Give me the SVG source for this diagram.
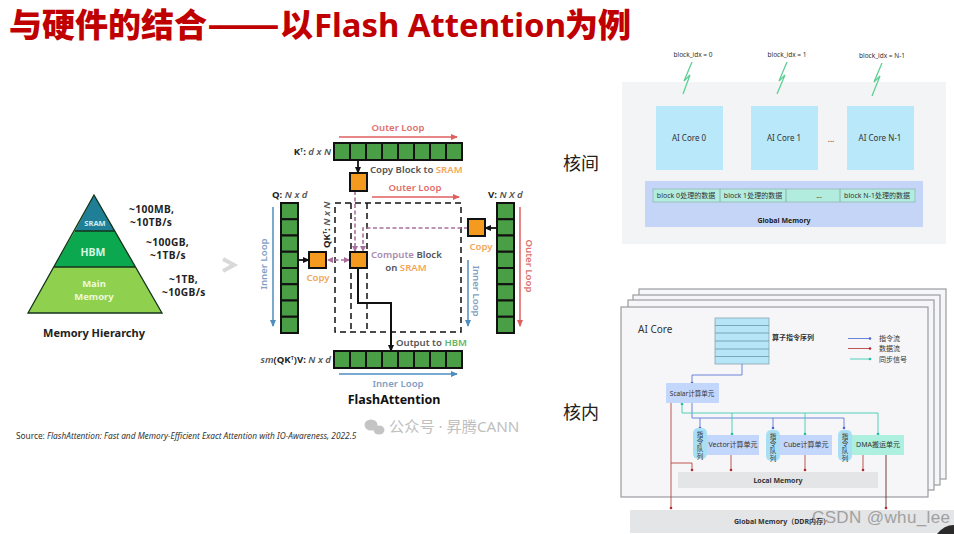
<svg xmlns="http://www.w3.org/2000/svg" width="954" height="534" viewBox="0 0 954 534">
<style>
text{font-family:"Noto Sans","Noto Sans CJK SC",sans-serif;fill:#333}
.c{text-anchor:middle}
.b{font-weight:700}
.mem{font-size:10.200px;letter-spacing:.4px;font-weight:700;fill:#222}
.cell{fill:#4a9e45;stroke:#111;stroke-width:2}
.org{fill:#f39a1f;stroke:#111;stroke-width:2}
.dash{fill:none;stroke:#111;stroke-width:1.5;stroke-dasharray:6 4}
.pink{fill:none;stroke:#a9709f;stroke-width:1.6;stroke-dasharray:4 2.5}
.f{font-size:9.6px;font-weight:600;fill:#555}
.o{fill:#f2a65a}.g{fill:#62b565}.rd{fill:#e0706c}.bl{fill:#7f9fc4}
.k{fill:#222}
.it{font-style:italic;font-weight:600;fill:#555}
.t7{font-size:7px;fill:#333}
.frame{fill:#f6f6f8;stroke:#9a9c9e;stroke-width:1.2}
.core{fill:#b9e8fa}
.bolt{fill:none;stroke:#5fcf96;stroke-width:1.3}
.unit{fill:#c3d6fb}
.pill{fill:#a9dff5}
.wire{fill:none;stroke-width:.9}
.wb{stroke:#5c78d8}.wr{stroke:#b5453f}.wg{stroke:#3fcdb0}
.v{font-size:6.500px;fill:#333;writing-mode:vertical-rl;text-orientation:upright;letter-spacing:.8px;font-family:"Noto Sans CJK SC",sans-serif}
.tt{font-size:33px;font-weight:900;fill:#c00000;font-family:"Noto Sans CJK SC",sans-serif}
.ttl{font-size:33px;font-weight:700;fill:#c00000;font-family:"Noto Sans",sans-serif}
</style>
<defs>
<marker id="ab" markerUnits="userSpaceOnUse" markerWidth="8" markerHeight="8" refX="6" refY="4" orient="auto"><path d="M0 1L7 4L0 7z" fill="#111"/></marker>
<marker id="ar" markerUnits="userSpaceOnUse" markerWidth="8" markerHeight="8" refX="6" refY="4" orient="auto"><path d="M0 1L7 4L0 7z" fill="#df5f5f"/></marker>
<marker id="au" markerUnits="userSpaceOnUse" markerWidth="8" markerHeight="8" refX="6" refY="4" orient="auto"><path d="M0 1L7 4L0 7z" fill="#4f8dbf"/></marker>
<marker id="ap" markerUnits="userSpaceOnUse" markerWidth="7" markerHeight="7" refX="5" refY="3.500" orient="auto-start-reverse"><path d="M0 .5L6 3.500L0 6.500z" fill="#a9709f"/></marker>
<marker id="db" markerUnits="userSpaceOnUse" markerWidth="4" markerHeight="4" refX="2" refY="2"><circle cx="2" cy="2" r="1.300" fill="#4a66d0"/></marker>
<marker id="dr" markerUnits="userSpaceOnUse" markerWidth="4" markerHeight="4" refX="2" refY="2"><circle cx="2" cy="2" r="1.300" fill="#b02a2a"/></marker>
<marker id="dg" markerUnits="userSpaceOnUse" markerWidth="4" markerHeight="4" refX="2" refY="2"><circle cx="2" cy="2" r="1.300" fill="#20c0a0"/></marker>
</defs>
<rect width="954" height="534" fill="#fff"/>
<g id="title">
<text class="tt" x="9" y="37">与硬件的结合</text>
<text class="tt" x="207" y="37" textLength="73" lengthAdjust="spacingAndGlyphs">——</text>
<text class="tt" x="280" y="37">以</text>
<text class="ttl" x="314" y="37" textLength="252" lengthAdjust="spacingAndGlyphs">Flash Attention</text>
<text class="tt" x="565" y="37">为例</text>
</g>

<g id="pyramid">
<path d="M94 195L162 313H28z" fill="#8fd14f"/>
<path d="M75 231H115L135 267H54z" fill="#0ba84f"/>
<path d="M94 195L115 231H75z" fill="#1f7f97"/>
<path d="M94 195L162 313H28zM75 231H115M54 267H135" fill="none" stroke="#14331c" stroke-width="1.3"/>
<text class="c b" x="95" y="226" font-size="7.5" style="fill:#cfeef0">SRAM</text>
<text class="c b" x="93" y="256" font-size="10.500" style="fill:#d8f5e2">HBM</text>
<text class="c b" x="94" y="287" font-size="9.500" style="fill:#eef8da">Main</text>
<text class="c b" x="94" y="300" font-size="9.500" style="fill:#eef8da">Memory</text>
<text class="mem" x="129" y="213">~100MB,</text>
<text class="mem" x="130" y="226">~10TB/s</text>
<text class="mem" x="146" y="246">~100GB,</text>
<text class="mem" x="150" y="259">~1TB/s</text>
<text class="mem" x="169" y="283">~1TB,</text>
<text class="mem" x="162" y="296">~10GB/s</text>
<text class="c b" x="94" y="337" font-size="11" style="fill:#222">Memory Hierarchy</text>
<path d="M223 259L234 265L223 271" fill="none" stroke="#d9d9d9" stroke-width="4"/>
</g>

<g id="connectors-flash">
<path class="dash" d="M335 203H461V332H335z"/>
<path class="dash" d="M351 203V332M367 203V332" stroke-dasharray="4 3"/>
<path class="pink" d="M355 191V251" marker-end="url(#ap)"/>
<path class="pink" d="M468 228H363V251" marker-end="url(#ap)"/>
<path class="pink" d="M328 260H349" marker-start="url(#ap)" marker-end="url(#ap)"/>
<path d="M358 160V173" fill="none" stroke="#111" stroke-width="1.8" marker-end="url(#ab)"/>
<path d="M298 260H309" fill="none" stroke="#111" stroke-width="1.8" marker-end="url(#ab)"/>
<path d="M497 228H485" fill="none" stroke="#111" stroke-width="1.8" marker-end="url(#ab)"/>
<path d="M358 268V303H391V351" fill="none" stroke="#111" stroke-width="2" marker-end="url(#ab)"/>
<path d="M339 137H457" stroke="#df5f5f" stroke-width="1.500" marker-end="url(#ar)"/>
<path d="M372 197H459" stroke="#df5f5f" stroke-width="1.500" marker-end="url(#ar)"/>
<path d="M520 207V326" stroke="#df5f5f" stroke-width="1.500" marker-end="url(#ar)"/>
<path d="M273 207V326" stroke="#4f8dbf" stroke-width="1.500" marker-end="url(#au)"/>
<path d="M468 260V326" stroke="#4f8dbf" stroke-width="1.500" marker-end="url(#au)"/>
<path d="M339 374H457" stroke="#4f8dbf" stroke-width="1.500" marker-end="url(#au)"/>
</g>
<g id="k-row">
<rect class="cell" x="334" y="143" width="16" height="17"/><rect class="cell" x="350" y="143" width="16" height="17"/><rect class="cell" x="366" y="143" width="16" height="17"/><rect class="cell" x="382" y="143" width="16" height="17"/><rect class="cell" x="398" y="143" width="16" height="17"/><rect class="cell" x="414" y="143" width="16" height="17"/><rect class="cell" x="430" y="143" width="16" height="17"/><rect class="cell" x="446" y="143" width="16" height="17"/>
<text class="f" x="331" y="155" text-anchor="end"><tspan class="b k">K</tspan><tspan font-size="5.500" dy="-3" class="k">T</tspan><tspan dy="3" class="b k">:</tspan><tspan class="it"> d x N</tspan></text>
</g>
<g id="q-col">
<rect class="cell" x="281" y="203" width="17" height="16.250"/><rect class="cell" x="281" y="219.250" width="17" height="16.250"/><rect class="cell" x="281" y="235.500" width="17" height="16.250"/><rect class="cell" x="281" y="251.750" width="17" height="16.250"/><rect class="cell" x="281" y="268" width="17" height="16.250"/><rect class="cell" x="281" y="284.250" width="17" height="16.250"/><rect class="cell" x="281" y="300.500" width="17" height="16.250"/><rect class="cell" x="281" y="316.750" width="17" height="16.250"/>
<text class="f" x="272" y="198"><tspan class="b k">Q:</tspan><tspan class="it"> N x d</tspan></text>
</g>
<g id="v-col">
<rect class="cell" x="497" y="203" width="17" height="16.250"/><rect class="cell" x="497" y="219.250" width="17" height="16.250"/><rect class="cell" x="497" y="235.500" width="17" height="16.250"/><rect class="cell" x="497" y="251.750" width="17" height="16.250"/><rect class="cell" x="497" y="268" width="17" height="16.250"/><rect class="cell" x="497" y="284.250" width="17" height="16.250"/><rect class="cell" x="497" y="300.500" width="17" height="16.250"/><rect class="cell" x="497" y="316.750" width="17" height="16.250"/>
<text class="f" x="488" y="198"><tspan class="b k">V:</tspan><tspan class="it"> N X d</tspan></text>
</g>
<g id="out-row">
<rect class="cell" x="334" y="351" width="16" height="17"/><rect class="cell" x="350" y="351" width="16" height="17"/><rect class="cell" x="366" y="351" width="16" height="17"/><rect class="cell" x="382" y="351" width="16" height="17"/><rect class="cell" x="398" y="351" width="16" height="17"/><rect class="cell" x="414" y="351" width="16" height="17"/><rect class="cell" x="430" y="351" width="16" height="17"/><rect class="cell" x="446" y="351" width="16" height="17"/>
<text class="f" x="331" y="363" text-anchor="end"><tspan class="it k">sm</tspan><tspan class="k">(</tspan><tspan class="b k">QK</tspan><tspan font-size="5.500" dy="-3" class="k">T</tspan><tspan dy="3" class="k">)</tspan><tspan class="b k">V:</tspan><tspan class="it"> N x d</tspan></text>
</g>
<g id="orange-blocks">
<rect class="org" x="350" y="173" width="17" height="18"/>
<rect class="org" x="350" y="252" width="17" height="16"/>
<rect class="org" x="309" y="252" width="17" height="16"/>
<rect class="org" x="468" y="219" width="17" height="17"/>
</g>
<g id="flash-labels">
<text class="c f rd" x="398" y="131">Outer Loop</text>
<text class="c f rd" x="415" y="191">Outer Loop</text>
<text class="f" x="370" y="173">Copy Block to <tspan class="o">SRAM</tspan></text>
<text class="f" x="371" y="258"><tspan style="fill:#a98bb0">Compute</tspan> Block</text>
<text class="c f" x="406" y="271">on <tspan class="o">SRAM</tspan></text>
<text class="c f o" x="318" y="281">Copy</text>
<text class="c f o" x="481" y="250">Copy</text>
<text class="f" x="396" y="346">Output to <tspan class="g">HBM</tspan></text>
<text class="c f bl" x="398" y="387">Inner Loop</text>
<text class="c b" x="394" y="404" font-size="12.500" style="fill:#111">FlashAttention</text>
<text class="f" transform="translate(330 248) rotate(-90)"><tspan class="b k">QK</tspan><tspan font-size="5.500" dy="-3" class="k">T</tspan><tspan dy="3" class="b k">:</tspan><tspan class="it"> N x N</tspan></text>
<text class="c f bl" transform="translate(267 264) rotate(-90)">Inner Loop</text>
<text class="c f bl" transform="translate(473 291) rotate(90)">Inner Loop</text>
<text class="c f rd" transform="translate(526 266) rotate(90)">Outer Loop</text>
</g>
<text x="16" y="439" font-size="8.300" style="fill:#333">Source: <tspan font-style="italic">FlashAttention: Fast and Memory-Efficient Exact Attention with IO-Awareness,  2022.5</tspan></text>
<g id="wechat-mark">
<ellipse cx="371" cy="425" rx="6.500" ry="5.500" fill="#c4c4c4"/><ellipse cx="379" cy="430" rx="5.500" ry="4.500" fill="#c4c4c4"/>
<text x="389" y="432" font-size="15.200" style="fill:#c0c0c0">公众号 · 昇腾CANN</text>
</g>
<text x="563" y="170" font-size="18" style="fill:#222">核间</text>
<text x="563" y="419" font-size="18" style="fill:#222">核内</text>

<g id="inter-core">
<rect x="622" y="82" width="324" height="162" fill="#f3f4f5"/>
<path class="bolt" d="M692 62L684 81L690 75L683 94M787 62L779 81L785 75L777 94M882 63L874 82L880 76L872 96"/>
<text class="c" font-size="6.500" x="693" y="57">block_idx = 0</text>
<text class="c" font-size="6.500" x="787" y="57">block_idx = 1</text>
<text class="c" font-size="6.500" x="882" y="58">block_idx = N-1</text>
</g>
<g id="core0"><rect class="core" x="656" y="106" width="67" height="64"/><text class="c" x="689" y="141" font-size="8">AI Core 0</text></g>
<g id="core1"><rect class="core" x="751" y="106" width="67" height="64"/><text class="c" x="784" y="141" font-size="8">AI Core 1</text></g>
<text class="c" x="831" y="142" font-size="8">...</text>
<g id="coreN"><rect class="core" x="847" y="106" width="67" height="64"/><text class="c" x="880" y="141" font-size="8">AI Core N-1</text></g>
<g id="global-top">
<rect x="645" y="181" width="278" height="46" fill="#c5d5f8"/>
<rect x="653" y="189" width="262" height="13" fill="#b2ecdf" stroke="#8fb8b4" stroke-width=".8"/>
<path d="M720 189V202M786 189V202M840 189V202" stroke="#7fa5a5" stroke-width=".8"/>
<text class="c t7" x="686" y="198">block 0处理的数据</text>
<text class="c t7" x="753" y="198">block 1处理的数据</text>
<text class="c t7" x="819" y="198">...</text>
<text class="c t7" x="877" y="198">block N-1处理的数据</text>
<text class="c b" x="784" y="223" font-size="7" style="fill:#222">Global Memory</text>
</g>

<g id="stack">
<rect class="frame" x="639" y="289" width="307" height="190"/>
<rect class="frame" x="633" y="295" width="307" height="190"/>
<rect class="frame" x="628" y="300" width="306" height="190"/>
<rect class="frame" x="621" y="307" width="307" height="190"/>
<text x="638" y="333" font-size="10">AI Core</text>
</g>
<g id="queue">
<rect x="715" y="318" width="54" height="46" fill="#b5e5f7" stroke="#8aa5ad" stroke-width=".8"/>
<path d="M715 325.500H769M715 333H769M715 341H769M715 349H769M715 356.500H769" stroke="#6d98a5" stroke-width=".8"/>
<text class="b" x="772" y="340" font-size="7" style="fill:#333">算子指令序列</text>
</g>
<g id="legend">
<path class="wire wb" d="M848 338.500H870" marker-end="url(#db)"/>
<path class="wire wr" d="M848 348.500H870" marker-end="url(#dr)"/>
<path class="wire wg" d="M850 359H870" marker-end="url(#dg)"/>
<text class="t7" x="879" y="341">指令流</text>
<text class="t7" x="879" y="351">数据流</text>
<text class="t7" x="879" y="362">同步信号</text>
</g>
<g id="local"><rect x="678" y="472" width="200" height="16" fill="#e4e5e6"/><text class="c b" x="778" y="483" font-size="7" style="fill:#333">Local Memory</text></g>
<g id="global-bottom"><rect x="630" y="510" width="324" height="23" fill="#e4e5e6"/><text class="c b" x="782" y="524" font-size="7" style="fill:#333">Global Memory（DDR内存）</text></g>
<g id="connectors-core">
<path class="wire wb" d="M742 364V375H692V383" marker-end="url(#db)"/>
<path class="wire wb" d="M692 403V418H844V428" marker-end="url(#db)"/>
<path class="wire wb" d="M700 418V428" marker-end="url(#db)"/>
<path class="wire wb" d="M773 418V428" marker-end="url(#db)"/>
<path class="wire wg" d="M682 413V404" marker-end="url(#dg)"/>
<path class="wire wg" d="M682 413H878V434" marker-end="url(#dg)"/>
<path class="wire wg" d="M732 413V434" marker-end="url(#dg)"/>
<path class="wire wg" d="M805 413V434" marker-end="url(#dg)"/>
<path class="wire wr" d="M671 403V508" marker-end="url(#dr)"/>
<path class="wire wr" d="M671 463H692V470" marker-end="url(#dr)"/>
<path class="wire wr" d="M731 455V470" marker-end="url(#dr)"/>
<path class="wire wr" d="M805 455V470" marker-end="url(#dr)"/>
<path class="wire wr" d="M863 455V470" marker-end="url(#dr)"/>
<path class="wire" stroke="#6a2a2a" stroke-width="1.200" d="M886 455V508" marker-end="url(#dr)"/>
</g>
<g id="scalar"><rect class="unit" x="666" y="383" width="53" height="20" rx="1"/><text class="c" x="692" y="396" font-size="6.500">Scalar计算单元</text></g>
<g id="vector"><rect class="unit" x="707" y="435" width="52" height="20"/><rect class="pill" x="693" y="428" width="14" height="31" rx="5"/><text class="v" x="700" y="431">指令队列</text><text class="c" x="733" y="447" font-size="7">Vector计算单元</text></g>
<g id="cube"><rect class="unit" x="780" y="435" width="52" height="20"/><rect class="pill" x="766" y="430" width="14" height="31" rx="5"/><text class="v" x="773" y="433">指令队列</text><text class="c" x="806" y="447" font-size="7">Cube计算单元</text></g>
<g id="dma"><rect x="852" y="435" width="52" height="20" fill="#aef0df"/><rect class="pill" x="838" y="430" width="14" height="31" rx="5"/><text class="v" x="845" y="433">指令队列</text><text class="c" x="878" y="447" font-size="7">DMA搬运单元</text></g>
<text x="812" y="523" font-size="17" textLength="138" style="fill:#8a8a8a;font-family:'Liberation Sans',sans-serif" opacity=".75">CSDN @whu_lee</text>
<path d="M954 525Q944 525 937 534H954z" fill="#2a2a2a"/>
</svg>
